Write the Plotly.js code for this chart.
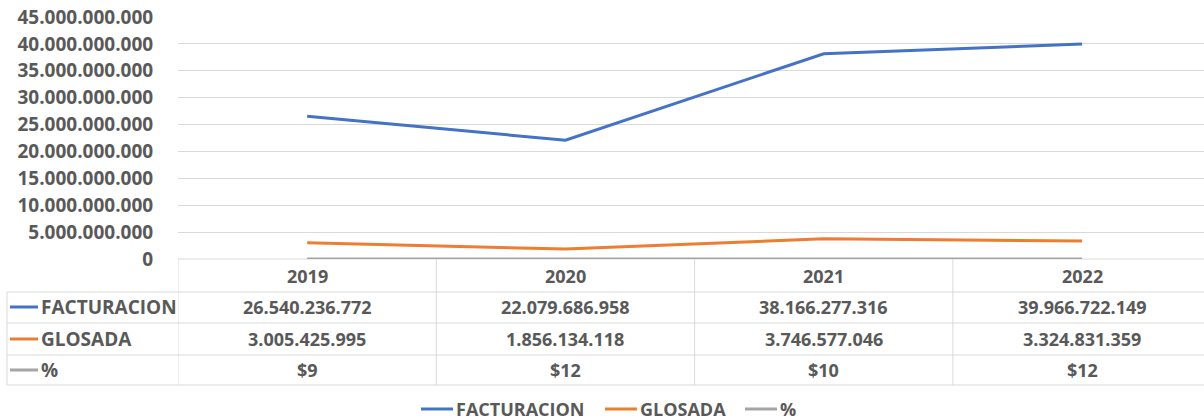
<!DOCTYPE html>
<html>
<head>
<meta charset="utf-8">
<script src="https://cdn.plot.ly/plotly-3.0.1.min.js"></script>
<style>html,body{margin:0;padding:0;background:#fff;}#chart{width:1204px;height:420px;}</style>
</head>
<body>
<div id="chart"></div>
<script>
const years = ['2019', '2020', '2021', '2022'];
const facturacion = [26540236772, 22079686958, 38166277316, 39966722149];
const glosada = [3005425995, 1856134118, 3746577046, 3324831359];
const porcentaje = [9, 12, 10, 12];
const seriesNames = ['FACTURACION', 'GLOSADA', '%'];
const seriesColors = ['#4472C4', '#ED7D31', '#A5A5A5'];

const FONT = 'Open Sans, Arial, sans-serif';
const TXT = '#595959';
const GRID = '#D9D9D9';
const L = 178, T = 17, W = 1026, H = 242;
const px = p => (p - L) / W;
const py = p => (T + H - p) / H;

function fmt(n) {
  return String(Math.round(n)).replace(/\B(?=(\d{3})+(?!\d))/g, '.');
}

const allSeries = [facturacion, glosada, porcentaje];
const traces = allSeries.map((vals, i) => ({
  type: 'scatter', mode: 'lines', x: years, y: vals, name: seriesNames[i],
  line: {color: seriesColors[i], width: 3}, cliponaxis: false, showlegend: false
}));

const shapes = [];
const annotations = [];
const rowY = [307, 339, 370];
const rowLines = [292, 323, 355, 385];
shapes.push({type: 'line', xref: 'paper', yref: 'paper', x0: 0, x1: 1.01, y0: py(259), y1: py(259), line: {color: GRID, width: 1}, layer: 'below'});
rowLines.forEach(r => shapes.push({type: 'line', xref: 'paper', yref: 'paper', x0: px(7), x1: 1.01, y0: py(r), y1: py(r), line: {color: GRID, width: 1}}));
shapes.push({type: 'line', xref: 'paper', yref: 'paper', x0: px(7), x1: px(7), y0: py(292), y1: py(385), line: {color: GRID, width: 1}});
for (let k = 0; k < years.length; k++) {
  shapes.push({type: 'line', xref: 'x', yref: 'paper', x0: k - 0.5, x1: k - 0.5, y0: py(259), y1: py(385), line: {color: GRID, width: 1}});
}
const tfont = {family: FONT, size: 18, color: TXT, weight: 700};
const lfont = {family: FONT, size: 19, color: TXT, weight: 700};
years.forEach((yr, k) => annotations.push({xref: 'x', yref: 'paper', x: k, y: py(276), text: yr, showarrow: false, xanchor: 'center', yanchor: 'middle', font: tfont}));
const rowText = [facturacion.map(fmt), glosada.map(fmt), porcentaje.map(v => '$' + v)];
seriesNames.forEach((nm, i) => {
  shapes.push({type: 'line', xref: 'paper', yref: 'paper', x0: px(10), x1: px(38), y0: py(rowY[i]), y1: py(rowY[i]), line: {color: seriesColors[i], width: 3}});
  annotations.push({xref: 'paper', yref: 'paper', x: px(39), y: py(rowY[i]), text: nm, showarrow: false, xanchor: 'left', yanchor: 'middle', font: lfont});
  rowText[i].forEach((t, k) => annotations.push({xref: 'x', yref: 'paper', x: k, y: py(rowY[i]), text: t, showarrow: false, xanchor: 'center', yanchor: 'middle', font: tfont}));
});
const legX = [421, 605, 745];
seriesNames.forEach((nm, i) => {
  shapes.push({type: 'line', xref: 'paper', yref: 'paper', x0: px(legX[i]), x1: px(legX[i] + 32), y0: py(409), y1: py(409), line: {color: seriesColors[i], width: 3}});
  annotations.push({xref: 'paper', yref: 'paper', x: px(legX[i] + 33), y: py(409), text: nm, showarrow: false, xanchor: 'left', yanchor: 'middle', font: tfont});
});

const layout = {
  width: 1204, height: 420,
  margin: {l: L, r: 0, t: T, b: 420 - T - H, pad: 0},
  paper_bgcolor: '#fff', plot_bgcolor: '#fff',
  separators: ',.',
  showlegend: false,
  xaxis: {type: 'category', range: [-0.5, -0.5 + W / 258.3], showticklabels: false, showgrid: false, zeroline: false, showline: false, ticks: ''},
  yaxis: {range: [0, 45e9], dtick: 5e9, tickformat: ',d', showgrid: true, gridcolor: GRID, gridwidth: 1, zeroline: false, showline: false,
    ticks: 'outside', ticklen: 20, tickcolor: 'rgba(0,0,0,0)', tickfont: {family: FONT, size: 19, color: TXT, weight: 700}},
  shapes: shapes, annotations: annotations
};

Plotly.newPlot('chart', traces, layout, {staticPlot: true, displayModeBar: false});
</script>
</body>
</html>
